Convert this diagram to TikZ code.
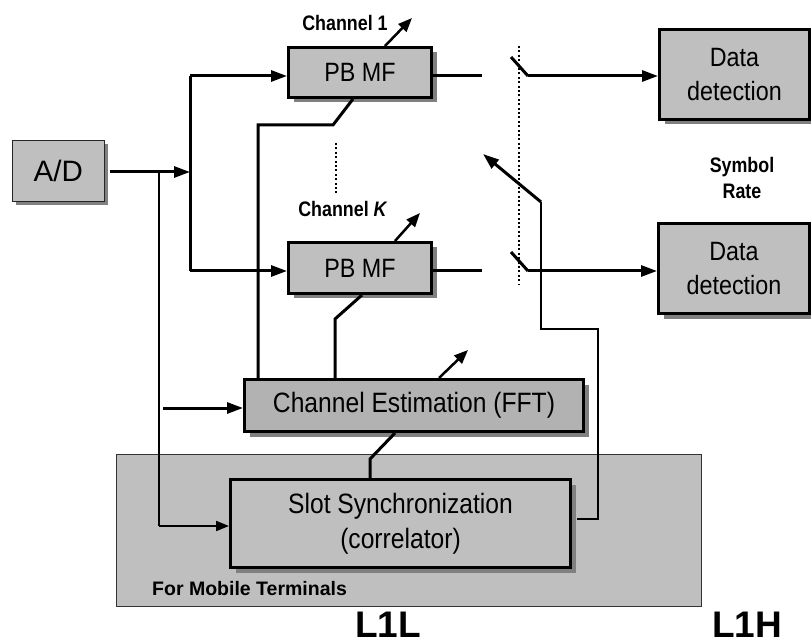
\documentclass[tikz,border=0pt]{standalone}
\usepackage{fontspec}
\setmainfont{Liberation Sans}
\newfontfamily\narrowfont{Liberation Sans}[FakeStretch=0.88]
\newfontfamily\narrowbfont{Liberation Sans Bold}[FakeStretch=0.85]
\usetikzlibrary{arrows.meta,shadows}
\definecolor{boxgray}{gray}{0.75}
\definecolor{estgray}{gray}{0.70}
\definecolor{shadowgray}{gray}{0.5}
\begin{document}
\begin{tikzpicture}[x=1pt,y=-1pt,
  box/.style={draw=black, line width=3pt, fill=boxgray, inner sep=0pt, align=center,
    drop shadow={shadow xshift=5pt, shadow yshift=-5pt, fill=shadowgray, opacity=1}},
  adbox/.style={draw=black!85, line width=1.5pt, fill=boxgray, inner sep=0pt,
    drop shadow={shadow xshift=4pt, shadow yshift=-4pt, fill=shadowgray, opacity=1}},
  region/.style={draw=black!80, line width=1pt, fill=boxgray, inner sep=0pt},
  thickline/.style={line width=3pt, line join=miter},
  thinline/.style={line width=2pt},
  medline/.style={line width=2.5pt, line join=miter},
  arr/.style={line width=3pt, -{Triangle[length=16pt,width=11pt]}},
  arrthin/.style={line width=2pt, -{Triangle[length=13pt,width=10pt]}},
  arrsm/.style={line width=2.5pt, -{Triangle[length=14pt,width=11pt]}},
  dotline/.style={line width=2.8pt, dash pattern=on 2pt off 2.4pt},
  lab/.style={font=\narrowbfont\fontsize{21}{26}\selectfont, inner sep=0pt, align=center},
  boxtext/.style={font=\narrowfont\fontsize{26.5}{34}\selectfont},
  bigtext/.style={font=\bfseries\fontsize{37}{40}\selectfont, inner sep=0pt}
]
\useasboundingbox (0,0) rectangle (811,644);

% region for mobile terminals
\node[region, minimum width=585pt, minimum height=152pt] (mt) at (408.5,530) {};
\node[anchor=west, inner sep=0pt, font=\bfseries\fontsize{19.5}{22}\selectfont] (mtl) at (152,589) {For Mobile Terminals};

% boxes
\node[adbox, minimum width=92pt, minimum height=61pt, font=\fontsize{29.5}{34}\selectfont] (ad) at (58.3,171) {A/D};
\node[box, boxtext, minimum width=143pt, minimum height=50pt] (pb1) at (360,72.5) {PB MF};
\node[box, boxtext, minimum width=143pt, minimum height=51pt] (pbk) at (360,268) {PB MF};
\node[box, boxtext, minimum width=150pt, minimum height=90pt] (dd1) at (734.5,74.5) {Data\\detection};
\node[box, boxtext, minimum width=151pt, minimum height=90pt] (dd2) at (734,268.5) {Data\\detection};
\node[box, fill=estgray, font=\narrowfont\fontsize{28}{34}\selectfont, minimum width=339pt, minimum height=52pt] (ce) at (414,405.5) {Channel Estimation (FFT)};
\node[box, font=\narrowfont\fontsize{28}{35}\selectfont, minimum width=340pt, minimum height=88pt] (ss) at (400.5,523.5) {Slot Synchronization\\(correlator)};

% labels
\node[lab] (ch1) at (345,23) {Channel 1};
\node[lab] (chk) at (343,209) {Channel \textit{K}};
\node[lab] (sr) at (742,178) {Symbol\\Rate};
\node[bigtext] (l1l) at (388,625) {L1L};
\node[bigtext] (l1h) at (747,625) {L1H};

% input distribution
\coordinate (j1) at (190,172);
\draw[arr] ([xshift=5pt]ad.east |- j1) -- (j1);
\coordinate (t1) at (190,76);
\coordinate (tk) at (190,271);
\draw[thickline] (t1) -- (tk);
\draw[arr] (t1) -- (t1 -| pb1.west);
\draw[arr] (tk) -- (tk -| pbk.west);

\coordinate (j2) at (159,172);
\coordinate (j3) at (159,526);
\draw[thinline] (j2) -- (j3);
\draw[arrthin] (j3) -- (j3 -| ss.west);

\coordinate (ce0) at (163,408);
\draw[arr] (ce0) -- (ce0 -| ce.west);

% channel estimation to matched filters
\coordinate (a1) at (333,125);
\coordinate (a2) at (258,125);
\draw[thickline] ([xshift=-7pt]pb1.south) -- (a1) -- (a2) -- (a2 |- ce.north);
\coordinate (b1) at (335,319);
\draw[thickline] ([xshift=2pt]pbk.south) -- (b1) -- (b1 |- ce.north);
\coordinate (c1) at (370,459);
\draw[thickline] ([xshift=-19pt]ce.south) -- (c1) -- (c1 |- ss.north);

% slot sync to sampling switches
\coordinate (d1) at (598,519);
\coordinate (d2) at (598,329);
\coordinate (d3) at (541,329);
\coordinate (d4) at (541,202);
\coordinate (d5) at (483,154);
\draw[medline] ([xshift=5pt]ss.east |- d1) -- (d1) -- (d2) -- (d3) -- (d4);
\draw[arr] (d4) -- (d5);

% adjustment arrows
\draw[arrsm] ([xshift=25pt]pb1.north) -- ++(27,-28);
\draw[arrsm] ([xshift=35pt]pbk.north) -- ++(25,-28);
\draw[arrsm] ([xshift=25pt]ce.north) -- ++(29,-28);

% outputs and switches
\coordinate (o1) at (482,76);
\coordinate (s1a) at (511,57);
\coordinate (s1b) at (528,76);
\draw[thickline] (pb1.east |- o1) -- (o1);
\draw[thickline] (s1a) -- (s1b);
\draw[arr] (s1b) -- (s1b -| dd1.west);
\coordinate (ok) at (482,271);
\coordinate (ska) at (511,252);
\coordinate (skb) at (528,271);
\draw[thickline] (pbk.east |- ok) -- (ok);
\draw[thickline] (ska) -- (skb);
\draw[arr] (skb) -- (skb -| dd2.west);

% dotted lines
\draw[dotline] (519,46) -- (519,285);
\draw[dotline] (336,143) -- (336,195);
\end{tikzpicture}
\end{document}
